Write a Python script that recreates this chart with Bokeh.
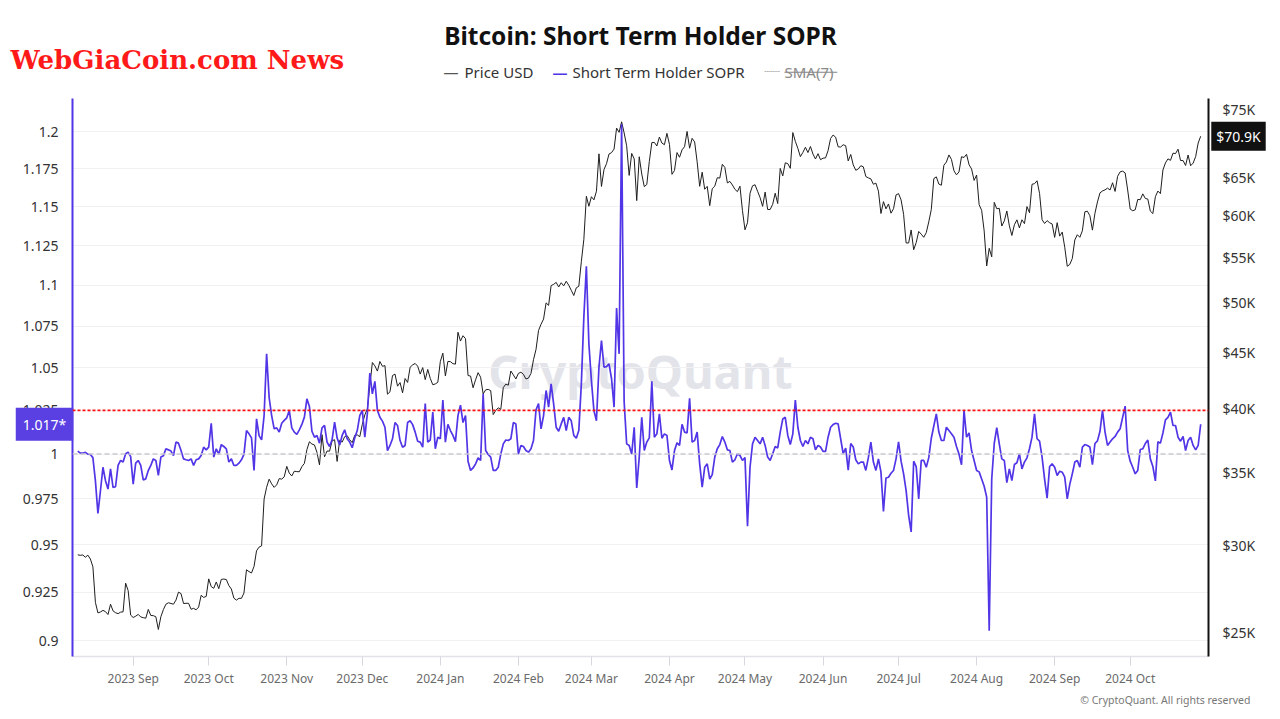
import math
import pandas as pd
from bokeh.plotting import figure
from bokeh.models import (Range1d, LogScale, LogAxis, FixedTicker, CustomJSTickFormatter,
                          Span, Label)
from bokeh.embed import file_html
from bokeh.resources import INLINE

# ---------------- data (daily, starting 2023-08-10) ----------------
start_date = "2023-08-10"

price_2023_08 = [29430, 29400, 29420, 29280, 29410, 29170, 28700, 26630, 26050, 26100, 26190,
                 26120, 25960, 26530, 26160, 26060, 26010, 26090, 26110, 27730, 27300, 25930]
price_2023_09 = [25800, 25870, 25970, 25830, 25790, 25760, 26240, 25910, 25900, 25840, 25160,
                 25840, 26230, 26530, 26610, 26570, 26530, 26760, 27210, 27130, 26570, 26580,
                 26580, 26250, 26300, 26220, 26370, 27030, 26910, 26970]
price_2023_10 = [27980, 27530, 27430, 27800, 27410, 27950, 27970, 27940, 27590, 27390, 26870,
                 26760, 26860, 26860, 27160, 28520, 28410, 28330, 28720, 29680, 29910, 29990,
                 33090, 33920, 34500, 34160, 33910, 34090, 34540, 34500, 34670]
price_2023_11 = [35440, 34940, 34730, 35080, 35050, 35040, 35420, 35660, 36700, 37320, 37140,
                 37070, 36490, 35550, 37880, 36160, 36600, 36590, 37390, 37480, 35810, 37430,
                 37290, 37720, 37800, 37480, 37250, 37830, 37860, 37720]
price_2023_12 = [38690, 39480, 39980, 41980, 44080, 43770, 43290, 44170, 43730, 43790, 41240,
                 41450, 42890, 43020, 41940, 42260, 41360, 42620, 42270, 43650, 43860, 43990,
                 43740, 43020, 43610, 42520, 43440, 42630, 42070, 42140, 42280]
price_2024_01 = [44180, 44950, 42850, 44180, 44160, 43970, 43930, 46970, 46110, 46630, 46340,
                 42890, 42840, 41800, 42510, 43150, 42740, 41260, 41620, 41660, 41550, 39510,
                 39850, 40080, 39940, 41820, 42120, 42030, 43300, 42950, 42580]
price_2024_02 = [43080, 43190, 43000, 42580, 42660, 43080, 44340, 45300, 47150, 47770, 48290,
                 49960, 49700, 51810, 51940, 52160, 51660, 52120, 51780, 52280, 51850, 51300,
                 50740, 51570, 51730, 54480, 57090, 62500, 61200]
price_2024_03 = [62440, 62030, 63170, 68330, 63800, 66110, 66930, 68300, 68500, 69020, 72120,
                 71480, 73080, 71400, 69500, 65300, 68390, 67610, 61930, 67910, 65490, 63780,
                 64060, 67230, 69960, 69990, 69460, 70780, 69890, 69650, 71330]
price_2024_04 = [69700, 65450, 65980, 68510, 67840, 68900, 69360, 71620, 69140, 70590, 70060,
                 67190, 63820, 65740, 63430, 63810, 61280, 63510, 63840, 64990, 64930, 66840,
                 66410, 64280, 64480, 64000, 63420, 63110, 63840, 60640]
price_2024_05 = [58250, 59120, 62890, 63890, 64030, 63160, 62330, 61190, 63050, 60790, 60790,
                 61450, 62900, 61550, 66270, 65230, 67050, 66940, 66280, 71450, 70140, 69120,
                 67930, 68530, 69280, 68510, 69390, 68300, 67590, 68350, 67490]
price_2024_06 = [67710, 67750, 68800, 70570, 71080, 70760, 69340, 69310, 69650, 69500, 67320,
                 68240, 66760, 66010, 66190, 66640, 66490, 65150, 64960, 64830, 64100, 64250,
                 63180, 60280, 61800, 60870, 61500, 60320, 60890, 62680]
price_2024_07 = [62850, 62030, 60170, 56660, 56660, 58230, 55860, 56700, 58050, 57720, 57340,
                 57900, 59230, 60790, 64870, 65100, 64120, 63970, 66710, 67160, 68170, 67530,
                 65940, 65380, 65780, 67910, 67810, 68260, 66780, 66190, 64620]
price_2024_08 = [65350, 61410, 60680, 58120, 53990, 56030, 55030, 61710, 60880, 60940, 58710,
                 59350, 60600, 58740, 57560, 58870, 59480, 58480, 59490, 59010, 61160, 60380,
                 64090, 64180, 64570, 62880, 59500, 59030, 59380, 59120, 58970]
price_2024_09 = [57330, 59130, 57480, 57970, 56160, 53950, 54160, 54840, 57020, 57650, 57340,
                 58130, 60500, 60570, 59990, 58210, 60310, 61760, 62950, 63200, 63350, 63580,
                 63330, 64300, 63140, 65180, 65790, 65890, 65640, 63330]
price_2024_10 = [60840, 60630, 60750, 62090, 62050, 62820, 62220, 62130, 60580, 60270, 62440,
                 63190, 62850, 66050, 67040, 67610, 67400, 68420, 68360, 69000, 67370, 67370,
                 66680, 68160, 66640, 67010, 67940, 69900, 70900]

sopr_2023_08 = [1.0017, 1.0005, 1.0005, 1.001, 1.000, 0.9998, 0.998, 0.985, 0.967, 0.9795, 0.9926,
                0.9851, 0.9804, 0.9917, 0.9813, 0.9817, 0.9936, 0.9964, 0.9955, 1.0002, 1.0011, 0.9986]
sopr_2023_09 = [0.9832, 0.9949, 0.9964, 0.9936, 0.9855, 0.9861, 0.9907, 0.9936, 0.9973, 0.9964,
                0.9880, 0.9983, 0.9990, 1.0030, 1.0024, 1.0017, 0.9992, 1.0068, 1.0062, 1.0020,
                0.9973, 0.9968, 0.9964, 0.9973, 0.9936, 0.9968, 0.9973, 0.9992, 1.0039, 1.0024]
sopr_2023_10 = [1.0039, 1.0176, 0.9983, 1.0030, 0.9998, 1.0054, 1.0043, 1.0030, 0.9955, 0.9973,
                0.9936, 0.9936, 0.9949, 0.9968, 0.9998, 1.0134, 1.0115, 1.0092, 0.9908, 1.0201,
                1.0105, 1.0081, 1.0220, 1.0583, 1.0325, 1.0220, 1.0144, 1.0149, 1.0125, 1.0176, 1.0192]
sopr_2023_11 = [1.0207, 1.0249, 1.0149, 1.0125, 1.0112, 1.0138, 1.0169, 1.0211, 1.0317, 1.0272,
                1.0130, 1.0096, 1.0106, 1.0062, 1.0149, 1.0163, 1.0068, 1.0043, 1.0081, 1.0182,
                1.0092, 1.0052, 1.0106, 1.0138, 1.0087, 1.0068, 1.0036, 1.0092, 1.0134, 1.0220]
sopr_2023_12 = [1.0250, 1.0096, 1.0230, 1.0468, 1.0346, 1.0420, 1.0250, 1.0210, 1.0188, 1.0153,
                1.0020, 1.0049, 1.0087, 1.0180, 1.0163, 1.0077, 1.0039, 1.0049, 1.0180, 1.0190,
                1.0168, 1.0125, 1.0073, 1.0068, 1.0039, 1.0290, 1.0068, 1.0080, 1.0240, 1.0030, 1.0096]
sopr_2024_01 = [1.0087, 1.0310, 1.0068, 1.0170, 1.0134, 1.0106, 1.0071, 1.0220, 1.0280, 1.0180,
                1.0220, 0.9960, 0.9908, 0.9922, 0.9945, 0.9979, 0.9964, 1.0346, 1.0020, 0.9998,
                0.9983, 0.9908, 0.9908, 0.9926, 1.0000, 1.0058, 1.0080, 1.0077, 1.0087, 1.0180, 1.0172]
sopr_2024_02 = [1.0000, 1.0049, 1.0043, 1.0020, 1.0011, 1.0030, 1.0077, 1.0253, 1.0290, 1.0144,
                1.0220, 1.0366, 1.0269, 1.0405, 1.0288, 1.0153, 1.0130, 1.0172, 1.0210, 1.0134,
                1.0210, 1.0190, 1.0106, 1.0090, 1.0134, 1.0405, 1.0805, 1.1120, 1.0643]
sopr_2024_03 = [1.0425, 1.0249, 1.0190, 1.0503, 1.0663, 1.0503, 1.0507, 1.0523, 1.0435, 1.0269,
                1.0860, 1.0583, 1.2050, 1.0300, 1.0058, 1.0049, 1.0000, 1.0153, 0.9810, 0.9983,
                1.0210, 1.0020, 1.0068, 1.0092, 1.0420, 1.0096, 1.0115, 1.0230, 1.0090, 1.0115, 1.0106]
sopr_2024_04 = [0.9964, 0.9911, 1.0020, 1.0064, 1.0049, 1.0170, 1.0125, 1.0120, 1.0320, 1.0068,
                1.0077, 1.0125, 0.9945, 0.9815, 0.9926, 0.9945, 0.9860, 0.9885, 0.9983, 1.0030,
                1.0054, 1.0100, 1.0068, 1.0024, 1.0020, 0.9955, 0.9968, 1.0002, 0.9992, 0.9964]
sopr_2024_05 = [0.9980, 0.9600, 0.9926, 1.0058, 1.0096, 1.0077, 1.0058, 1.0096, 1.0049, 0.9983,
                0.9964, 1.0002, 1.0043, 1.0035, 1.0125, 1.0200, 1.0210, 1.0106, 1.0054, 1.0115,
                1.0310, 1.0153, 1.0077, 1.0043, 1.0077, 1.0058, 1.0096, 1.0087, 1.0024, 1.0049, 1.0040]
sopr_2024_06 = [1.0015, 1.0015, 1.0096, 1.0153, 1.0168, 1.0176, 1.0172, 1.0087, 1.0002, 1.0034,
                0.9910, 1.0060, 1.0040, 0.9968, 0.9945, 0.9955, 0.9955, 0.9908, 0.9980, 1.0068,
                0.9955, 0.9908, 0.9973, 0.9900, 0.9681, 0.9866, 0.9870, 0.9892, 0.9908, 0.9973]
sopr_2024_07 = [1.0070, 0.9960, 0.9889, 0.9796, 0.9660, 0.9570, 0.9960, 0.9930, 0.9750, 0.9964,
                0.9964, 0.9926, 0.9980, 1.0090, 1.0160, 1.0230, 1.0125, 1.0077, 1.0077, 1.0153,
                1.0134, 1.0115, 1.0096, 1.0043, 1.0000, 0.9940, 1.0250, 1.0096, 1.0120, 1.0020, 0.9964]
sopr_2024_08 = [0.9908, 0.9900, 0.9860, 0.9820, 0.9760, 0.9050, 0.9860, 1.0060, 1.0150, 1.0058,
                0.9973, 0.9964, 0.9840, 0.9917, 0.9851, 0.9941, 0.9951, 1.0002, 0.9917, 0.9955,
                0.9979, 1.0030, 1.0096, 1.0230, 1.0087, 1.0073, 0.9983, 0.9860, 0.9754, 0.9930, 0.9945]
sopr_2024_09 = [0.9926, 0.9880, 0.9904, 0.9898, 0.9870, 0.9750, 0.9830, 0.9889, 0.9955, 0.9964,
                0.9926, 1.0040, 1.0054, 1.0049, 1.0040, 0.9940, 1.0060, 1.0075, 1.0130, 1.0250,
                1.0125, 1.0049, 1.0068, 1.0087, 1.0100, 1.0125, 1.0144, 1.0210, 1.0275, 1.0020]
sopr_2024_10 = [0.9960, 0.9926, 0.9889, 0.9908, 1.0026, 1.0030, 1.0060, 1.0080, 0.9973, 0.9930,
                0.9850, 1.0070, 1.0062, 1.0120, 1.0195, 1.0210, 1.0240, 1.0163, 1.0163, 1.0096,
                1.0073, 1.0100, 1.0020, 1.0077, 1.0096, 1.0049, 1.0024, 1.0049, 1.0170]

tick_months = ["2023-09-01", "2023-10-01", "2023-11-01", "2023-12-01", "2024-01-01",
               "2024-02-01", "2024-03-01", "2024-04-01", "2024-05-01", "2024-06-01",
               "2024-07-01", "2024-08-01", "2024-09-01", "2024-10-01"]
sopr_ticks = [0.9, 0.925, 0.95, 0.975, 1.0, 1.025, 1.05, 1.075, 1.1, 1.125, 1.15, 1.175, 1.2]
price_ticks = [25000, 30000, 35000, 40000, 45000, 50000, 55000, 60000, 65000, 70000, 75000]
break_even = 1.0
ref_level = 1.025

title_text = "Bitcoin: Short Term Holder SOPR"
legend_names = ["Price USD", "Short Term Holder SOPR", "SMA(7)"]
brand_text = "WebGiaCoin.com News"
copyright_text = "© CryptoQuant. All rights reserved"
watermark_text = "CryptoQuant"

price = (price_2023_08 + price_2023_09 + price_2023_10 + price_2023_11 + price_2023_12 +
         price_2024_01 + price_2024_02 + price_2024_03 + price_2024_04 + price_2024_05 +
         price_2024_06 + price_2024_07 + price_2024_08 + price_2024_09 + price_2024_10)
sopr = (sopr_2023_08 + sopr_2023_09 + sopr_2023_10 + sopr_2023_11 + sopr_2023_12 +
        sopr_2024_01 + sopr_2024_02 + sopr_2024_03 + sopr_2024_04 + sopr_2024_05 +
        sopr_2024_06 + sopr_2024_07 + sopr_2024_08 + sopr_2024_09 + sopr_2024_10)
n = min(len(price), len(sopr))
dates = pd.date_range(start_date, periods=n, freq="D")
price = price[:n]
sopr = sopr[:n]

FONT = "Noto Sans"
SOPR_COLOR = "#5036e6"
FRAME_W = 1136
FRAME_H = 558
LEFT = 72
TOP = 98

# ---------------- figure ----------------
day_ms = 86400000.0
t0 = pd.Timestamp(start_date).value / 1e6
x_start = t0 - 2.1 * day_ms
x_end = x_start + 451.2 * day_ms
ms_per_px = (x_end - x_start) / FRAME_W
y_lo, y_hi = 0.8919, 1.2226
px_per_ln = FRAME_H / (math.log(y_hi) - math.log(y_lo))


def x_at(px):
    """page x pixel -> datetime (ms) on the x scale"""
    return x_start + (px - LEFT) * ms_per_px


def y_at(py):
    """page y pixel -> SOPR value on the (log) left scale"""
    return math.exp(math.log(y_hi) - (py - TOP) / px_per_ln)


p = figure(x_axis_type="datetime", y_axis_type="log",
           x_range=Range1d(x_start, x_end), y_range=Range1d(y_lo, y_hi),
           frame_width=FRAME_W, frame_height=FRAME_H,
           min_border_left=LEFT, min_border_right=1280 - LEFT - FRAME_W,
           min_border_top=TOP, min_border_bottom=40,
           output_backend="svg", toolbar_location=None)
p.outline_line_color = None
p.background_fill_color = "white"
p.border_fill_color = "white"

p.extra_y_ranges = {"price": Range1d(23770, 76750)}
p.extra_y_scales = {"price": LogScale()}

p.xgrid.visible = False
p.ygrid.ticker = FixedTicker(ticks=sopr_ticks)
p.ygrid.grid_line_color = "#f1f1f4"

xa = p.xaxis[0]
xa.ticker = FixedTicker(ticks=[pd.Timestamp(m).value / 1e6 for m in tick_months])
xa.formatter = CustomJSTickFormatter(code="""
const M = ['Jan','Feb','Mar','Apr','May','Jun','Jul','Aug','Sep','Oct','Nov','Dec'];
const d = new Date(tick);
return d.getUTCFullYear() + ' ' + M[d.getUTCMonth()];
""")
xa.axis_line_color = "#e2e2e9"
xa.axis_line_width = 1.5
xa.major_tick_line_color = "#d8d8e0"
xa.major_tick_in = 0
xa.major_tick_out = 9
xa.minor_tick_line_color = None
xa.major_label_text_font = FONT
xa.major_label_text_font_size = "12px"
xa.major_label_text_color = "#6a6a6a"
xa.major_label_standoff = 4

ya = p.yaxis[0]
ya.ticker = FixedTicker(ticks=sopr_ticks)
ya.formatter = CustomJSTickFormatter(code="return String(parseFloat(tick.toFixed(3)));")
ya.axis_line_color = SOPR_COLOR
ya.axis_line_width = 2
ya.major_tick_line_color = None
ya.major_tick_in = 0
ya.major_tick_out = 0
ya.minor_tick_line_color = None
ya.major_label_text_font = FONT
ya.major_label_text_font_size = "14px"
ya.major_label_text_color = "#333333"
ya.major_label_standoff = 14

ra = LogAxis(y_range_name="price", ticker=FixedTicker(ticks=price_ticks),
             formatter=CustomJSTickFormatter(code="return '$' + (tick/1000).toFixed(0) + 'K';"))
ra.axis_line_color = "#111111"
ra.axis_line_width = 2
ra.major_tick_line_color = None
ra.major_tick_in = 0
ra.major_tick_out = 0
ra.minor_tick_line_color = None
ra.major_label_text_font = FONT
ra.major_label_text_font_size = "14px"
ra.major_label_text_color = "#333333"
ra.major_label_standoff = 14
p.add_layout(ra, "right")

p.add_layout(Label(x=568, y=286, x_units="screen", y_units="screen", text=watermark_text,
                   text_font=FONT, text_font_size="47px", text_font_style="bold",
                   text_color="#e3e3ea", text_align="center", text_baseline="middle",
                   level="image"))

p.add_layout(Span(location=break_even, dimension="width", line_color="#c9c9d0",
                  line_dash="5 3", line_width=1.5))
p.add_layout(Span(location=ref_level, dimension="width", line_color="#ff1010",
                  line_dash="3 2", line_width=1.6))

p.line(dates, price, y_range_name="price", line_color="#1e1e1e", line_width=1)
p.line(dates, sopr, line_color=SOPR_COLOR, line_width=1.7)

# ---------------- texts outside the frame ----------------
# Attached to the "below" side panel (so they are not clipped to the frame)
# and positioned in data units.
has_pad = "padding" in Label.properties()


def outside(**kw):
    pad = kw.pop("pad", None)
    if pad is not None and has_pad:
        kw["padding"] = pad
    p.add_layout(Label(**kw), "below")


# current-value boxes
outside(x=x_at(1238), y=price[-1], y_range_name="price",
        text="$%.1fK" % (price[-1] / 1000.0), text_font=FONT, text_font_size="14px",
        text_color="white", text_align="center", text_baseline="middle",
        background_fill_color="#111111", pad=5)
outside(x=x_at(44), y=sopr[-1], text="%.3f*" % sopr[-1], text_font=FONT,
        text_font_size="14px", text_color="white", text_align="center",
        text_baseline="middle", background_fill_color="#5a3fe2", pad=7)

# title
outside(x=x_at(640), y=y_at(35), text=title_text, text_font=FONT, text_font_size="24.5px",
        text_font_style="bold", text_color="#111111", text_align="center",
        text_baseline="middle")

# legend
leg_y = y_at(71)
outside(x=x_at(443), y=leg_y, text="—", text_font=FONT, text_font_size="15px",
        text_color="#555555", text_baseline="middle")
outside(x=x_at(464), y=leg_y, text=legend_names[0], text_font=FONT, text_font_size="15px",
        text_color="#333333", text_baseline="middle")
outside(x=x_at(552), y=leg_y, text="—", text_font=FONT, text_font_size="15px",
        text_font_style="bold", text_color=SOPR_COLOR, text_baseline="middle")
outside(x=x_at(572), y=leg_y, text=legend_names[1], text_font=FONT, text_font_size="15px",
        text_color="#333333", text_baseline="middle")
outside(x=x_at(764), y=leg_y, text="┈┈", text_font="DejaVu Sans", text_font_size="13px",
        text_color="#aaaaaa", text_baseline="middle")
outside(x=x_at(784), y=leg_y, text=legend_names[2], text_font=FONT, text_font_size="15px",
        text_color="#8a8a8a", text_baseline="middle")
outside(x=x_at(784), y=leg_y, text="──────", text_font="DejaVu Sans",
        text_font_size="14.5px", text_color="#8a8a8a", text_baseline="middle")

# brand
outside(x=x_at(10), y=y_at(59), text=brand_text, text_font="DejaVu Serif",
        text_font_size="26px", text_font_style="bold", text_color="#ff1a1a",
        text_baseline="middle")

# copyright
outside(x=x_at(1250), y=y_at(699), text=copyright_text, text_font=FONT,
        text_font_size="10.5px", text_color="#777777", text_align="right",
        text_baseline="middle")

open("out.html", "w").write(file_html(p, INLINE))
